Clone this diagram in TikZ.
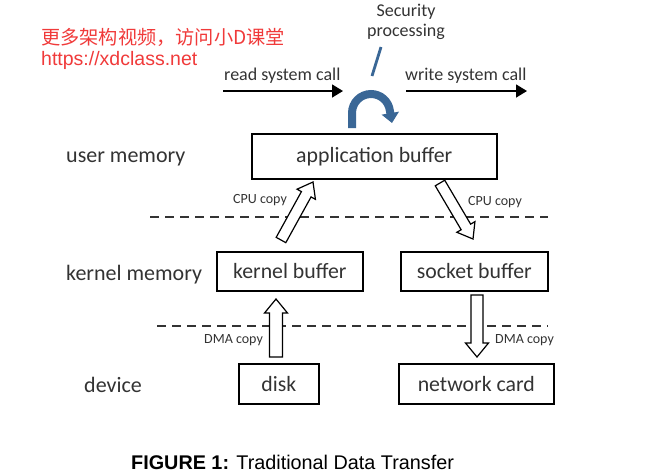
\documentclass[tikz,border=0pt]{standalone}
\usepackage{fontspec}
\setmainfont{Carlito}
\newfontfamily\cjkfont{Noto Sans CJK SC}
\newfontfamily\arialfont{Liberation Sans}
\usetikzlibrary{arrows.meta,calc}
\definecolor{txt}{HTML}{333333}
\definecolor{wm}{HTML}{F03A3A}
\definecolor{secblue}{HTML}{3A6796}
\tikzset{
  fs/.style={font=\fontsize{#1}{#1}\selectfont},
  bufbox/.style={draw=black, line width=1.6pt, text=txt, fs=21.8, inner sep=0pt, anchor=north west},
  lvl/.style={text=txt, fs=22, inner sep=0pt},
  small/.style={text=txt, fs=14, inner sep=0pt},
  sysarrow/.style={line width=1.6pt, -{Triangle[length=11pt,width=13pt]}},
  sep/.style={draw=txt, line width=1.3pt, dash pattern=on 9pt off 6pt},
  hollowline/.style={draw=black, line width=1.2pt, fill=white, line join=miter}
}
% #1 tail, #2 tip, #3 shaft half width, #4 head half width, #5 head length
\newcommand\hollowarrow[5]{%
  \coordinate (hb) at ($(#2)!#5!(#1)$);
  \draw[hollowline] ($(#1)!#3!90:(#2)$) -- ($(hb)!#3!90:(#2)$) -- ($(hb)!#4!90:(#2)$) -- (#2)
    -- ($(hb)!#4!-90:(#2)$) -- ($(hb)!#3!-90:(#2)$) -- ($(#1)!#3!-90:(#2)$) -- cycle;
}
\begin{document}
\begin{tikzpicture}[x=1pt,y=-1pt]
\useasboundingbox (0,0) rectangle (655,475);
% watermark
\node[anchor=west, inner sep=0pt, text=wm, fs=19.2] (wm1) at (41,37) {\cjkfont 更多架构视频，访问小D课堂};
\node[anchor=west, inner sep=0pt, text=wm, fs=19.5] (wm2) at (41,60) {\arialfont https://xdclass.net};
% security
\node[text=txt, fs=18, align=center, inner sep=0pt] (sec) at (406,22) {Security\\[2pt]processing};
\coordinate (s1) at (381,47);
\coordinate (s2) at (372,76);
\draw[secblue, line width=2.8pt] (s1) -- (s2);
\coordinate (arcstart) at (352,128);
\coordinate (arctip) at (392,123);
\draw[secblue, line width=8pt, -{Triangle[length=10pt,width=17pt]}] (arcstart) -- ++(0,-15) arc[start angle=180, end angle=352, radius=19] -- (arctip);
% system calls
\node[text=txt, fs=18, anchor=south west, inner sep=0pt] (rsc) at (224,84) {read system call};
\node[text=txt, fs=18, anchor=south west, inner sep=0pt] (wsc) at (405,84) {write system call};
\coordinate (r1) at (223,91); \coordinate (r2) at (343,91);
\coordinate (w1) at (406,91); \coordinate (w2) at (527,91);
\draw[sysarrow] (r1) -- (r2);
\draw[sysarrow] (w1) -- (w2);
% level labels
\node[lvl, anchor=base west] (um) at (66,162) {user memory};
\node[lvl, anchor=base west] (km) at (66,280) {kernel memory};
\node[lvl, anchor=base west] (dev) at (84,392) {device};
% boxes
\node[bufbox, minimum width=245pt, minimum height=45pt] (app) at (251,133) {application buffer};
\node[bufbox, minimum width=146pt, minimum height=39pt] (kb) at (216,251) {kernel buffer};
\node[bufbox, minimum width=147pt, minimum height=39pt] (sb) at (400,251) {socket buffer};
\node[bufbox, minimum width=80pt, minimum height=40pt] (disk) at (238,363) {disk};
\node[bufbox, minimum width=155pt, minimum height=40pt] (nic) at (398,363) {network card};
% dashed separators
\coordinate (d1a) at (150,217); \coordinate (d1b) at (548,217);
\coordinate (d2a) at (157,326); \coordinate (d2b) at (548,326);
\draw[sep] (d1a) -- (d1b);
\draw[sep] (d2a) -- (d2b);
% hollow arrows
\coordinate (c1t) at (281,240); \coordinate (c1h) at (313,182);
\coordinate (c2t) at (440,183); \coordinate (c2h) at (473,239);
\coordinate (m1t) at (276,357); \coordinate (m1h) at (276,299);
\coordinate (m2t) at (477,295); \coordinate (m2h) at (477,357);
\hollowarrow{c1t}{c1h}{5.5pt}{10.5pt}{14pt}
\hollowarrow{c2t}{c2h}{5.5pt}{10.5pt}{14pt}
\hollowarrow{m1t}{m1h}{6.5pt}{11.5pt}{14pt}
\hollowarrow{m2t}{m2h}{6pt}{11.5pt}{14pt}
% copy labels
\node[small, anchor=west] (c1) at (233,200) {CPU copy};
\node[small, anchor=west] (c2) at (468,202) {CPU copy};
\node[small, anchor=west] (m1) at (204,340) {DMA copy};
\node[small, anchor=west] (m2) at (495,340) {DMA copy};
% caption
\node[anchor=west, inner sep=0pt, fs=19.8] (cap) at (131,462) {\arialfont\textbf{FIGURE 1:} Traditional Data Transfer};
\end{tikzpicture}
\end{document}
